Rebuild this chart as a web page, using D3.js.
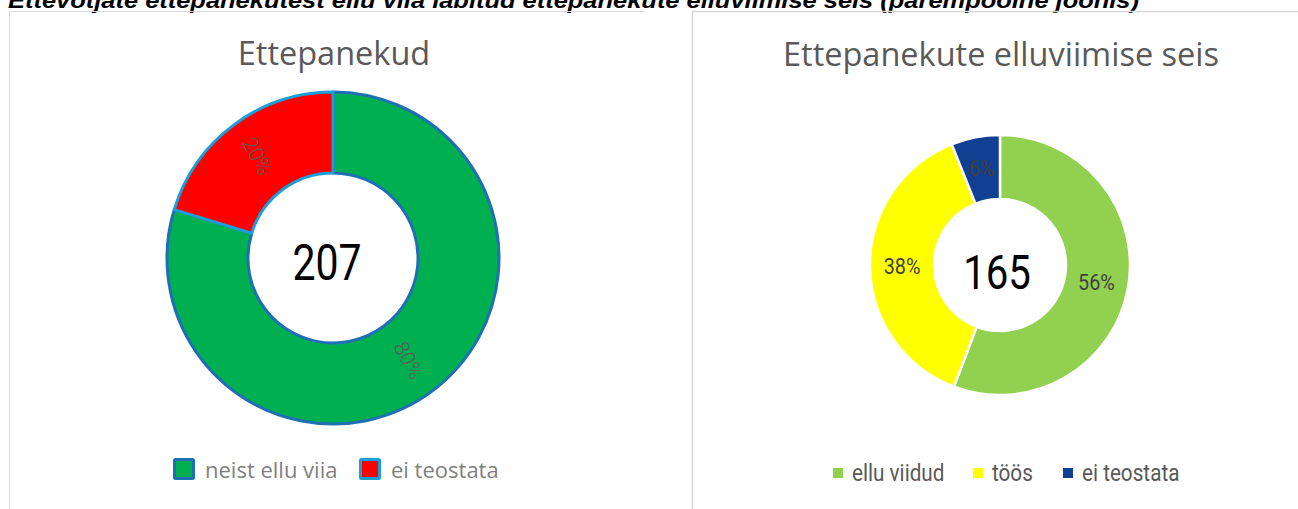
<!DOCTYPE html>
<html><head><meta charset="utf-8">
<script src="https://cdn.jsdelivr.net/npm/d3@7"></script>
<style>body{margin:0;background:#fff}svg{display:block}</style>
</head><body>
<svg id="c" width="1298" height="509"></svg>
<script>
// ---- data ----
const captionText = "Ettevõtjate ettepanekutest ellu viia läbitud ettepanekute elluviimise seis (parempoolne joonis)";
const leftTitle = "Ettepanekud";
const leftCategories = ["neist ellu viia", "ei teostata"];
const leftValues = [165, 42];
const leftTotal = 207;
const rightTitle = "Ettepanekute elluviimise seis";
const rightCategories = ["ellu viidud", "töös", "ei teostata"];
const rightValues = [92, 63, 10];
const rightTotal = 165;

// ---- styles ----
const leftFill = ["#00b050", "#ff0000"];
const leftStroke = ["#1f6fb5", "#1a9fd9"];
const rightFill = ["#92d050", "#ffff00", "#113f91"];

const svg = d3.select("#c");
const fmtPct = v => Math.round(v * 100) + "%";

// caption
svg.append("text").attr("x", 8).attr("y", 8)
  .attr("font-family", "Liberation Sans Narrow, Liberation Sans, Arial")
  .attr("font-weight", "bold").attr("font-style", "italic")
  .attr("font-size", 22).attr("fill", "#000")
  .attr("textLength", 1131).attr("lengthAdjust", "spacingAndGlyphs")
  .text(captionText);

// panel borders
svg.append("path").attr("d", "M9.5,509 V11.5 H645").attr("fill", "none").attr("stroke", "#d9d9d9").attr("stroke-width", 1);
svg.append("path").attr("d", "M692.5,509 V11.5 H1298").attr("fill", "none").attr("stroke", "#d9d9d9").attr("stroke-width", 1.5);

// ---------- left chart ----------
const L = {cx: 333, cy: 258, ro: 166, ri: 85};
const gL = svg.append("g").attr("transform", `translate(${L.cx},${L.cy})`);
const pieL = d3.pie().sort(null).value(d => d)(leftValues);
const arcL = d3.arc().innerRadius(L.ri).outerRadius(L.ro);
const sumL = d3.sum(leftValues);
gL.selectAll("path").data(pieL).join("path")
  .attr("d", arcL)
  .attr("fill", (d, i) => leftFill[i])
  .attr("stroke", (d, i) => leftStroke[i])
  .attr("stroke-width", 3).attr("stroke-linejoin", "round");
// labels (rotated)
const labArcL = d3.arc().innerRadius(127).outerRadius(127);
gL.selectAll("text.pl").data(pieL).join("text").attr("class", "pl")
  .attr("transform", d => { const c = labArcL.centroid(d); return `translate(${c[0]},${c[1]}) rotate(62)`; })
  .attr("text-anchor", "middle").attr("dy", "0.35em")
  .attr("font-family", "Roboto").attr("font-weight", 300).attr("font-size", 21)
  .attr("fill", "#595959")
  .text(d => fmtPct(d.value / sumL));
gL.append("text").attr("text-anchor", "middle").attr("y", 22)
  .attr("transform", "translate(-6,0) scale(0.82,1)")
  .attr("font-family", "Roboto").attr("font-size", 50).attr("fill", "#000")
  .text(leftTotal);
svg.append("text").attr("x", 334).attr("y", 65).attr("text-anchor", "middle")
  .attr("font-family", "Open Sans").attr("font-size", 32.5).attr("fill", "#595959")
  .text(leftTitle);
// legend left
const legL = svg.append("g");
const legLx = [173, 359];
leftCategories.forEach((c, i) => {
  legL.append("rect").attr("x", legLx[i] + 1.5).attr("y", 459.5).attr("width", 19).attr("height", 19)
    .attr("fill", leftFill[i]).attr("stroke", leftStroke[i]).attr("stroke-width", 3).attr("rx", 1);
  legL.append("text").attr("x", legLx[i] + 32).attr("y", 478)
    .attr("font-family", "Open Sans").attr("font-size", 22).attr("fill", "#7f7f7f").text(c);
});

// ---------- right chart ----------
const R = {cx: 1000, cy: 265, ro: 130, ri: 66};
const gR = svg.append("g").attr("transform", `translate(${R.cx},${R.cy})`);
const pieR = d3.pie().sort(null).value(d => d)(rightValues);
const arcR = d3.arc().innerRadius(R.ri).outerRadius(R.ro);
const sumR = d3.sum(rightValues);
gR.selectAll("path").data(pieR).join("path")
  .attr("d", arcR)
  .attr("fill", (d, i) => rightFill[i])
  .attr("stroke", "#fff").attr("stroke-width", 2.5);
const labArcR = d3.arc().innerRadius((R.ro + R.ri) / 2).outerRadius((R.ro + R.ri) / 2);
gR.selectAll("text.pl").data(pieR).join("text").attr("class", "pl")
  .attr("transform", d => { const c = labArcR.centroid(d); return `translate(${c[0]},${c[1]}) scale(0.9,1)`; })
  .attr("text-anchor", "middle").attr("dy", "0.35em")
  .attr("font-family", "Roboto").attr("font-size", 22)
  .attr("fill", "#404040")
  .text(d => fmtPct(d.value / sumR));
gR.append("text").attr("text-anchor", "middle").attr("y", 24)
  .attr("transform", "translate(-3,0) scale(0.82,1)")
  .attr("font-family", "Roboto").attr("font-size", 49).attr("fill", "#000")
  .text(rightTotal);
svg.append("text").attr("x", 1001).attr("y", 66).attr("text-anchor", "middle")
  .attr("font-family", "Open Sans").attr("font-size", 32.5).attr("fill", "#595959")
  .text(rightTitle);
const legR = svg.append("g");
const legRx = [833, 973, 1063];
rightCategories.forEach((c, i) => {
  legR.append("rect").attr("x", legRx[i]).attr("y", 468).attr("width", 10).attr("height", 10)
    .attr("fill", rightFill[i]);
  legR.append("text").attr("x", legRx[i] + 19).attr("y", 481)
    .attr("transform", `translate(${legRx[i] + 19},0) scale(0.9,1) translate(${-(legRx[i] + 19)},0)`)
    .attr("font-family", "Roboto").attr("font-size", 23).attr("fill", "#595959").text(c);
});
</script>
</body></html>
